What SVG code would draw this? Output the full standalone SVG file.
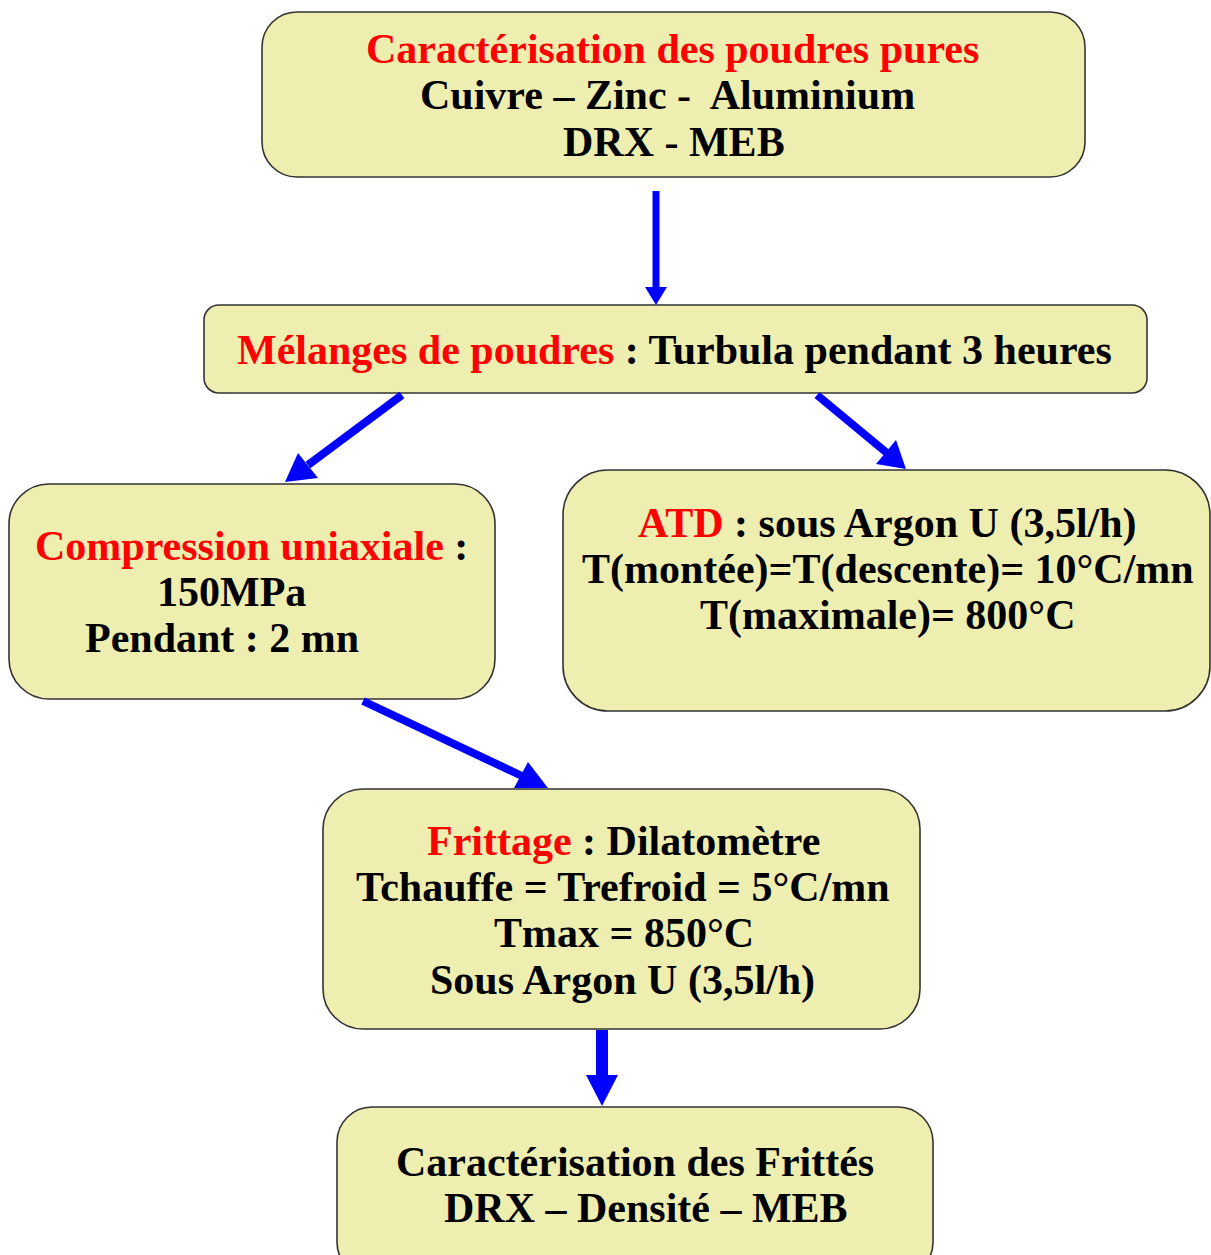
<svg xmlns="http://www.w3.org/2000/svg" width="1211" height="1255" viewBox="0 0 1211 1255">
<defs>
<style>
.box{fill:#EEEEB0;stroke:#333;stroke-width:1.6}
.t{font-family:"Liberation Serif","Times New Roman",serif;font-weight:bold;font-size:42px;fill:#000}
.r{fill:#FF0000}
.c{stroke:#0000FF;fill:none}
.h{fill:#0000FF}
</style>
</defs>
<rect width="1211" height="1255" fill="#fff"/>
<g id="n1">
<rect class="box" x="262" y="12" width="823" height="165" rx="35"/>
<text class="t r" x="366" y="63">Caractérisation des poudres pures</text>
<text class="t" x="420" y="109" xml:space="preserve">Cuivre – Zinc -  Aluminium</text>
<text class="t" x="563" y="156">DRX - MEB</text>
</g>
<g id="n2">
<rect class="box" x="204" y="305" width="943" height="88" rx="15"/>
<text class="t" x="237" y="364"><tspan class="r">Mélanges de poudres</tspan> : Turbula pendant 3 heures</text>
</g>
<g id="n3">
<rect class="box" x="9" y="484" width="486" height="215" rx="40"/>
<text class="t" x="35" y="560"><tspan class="r">Compression uniaxiale</tspan> :</text>
<text class="t" x="157" y="606">150MPa</text>
<text class="t" x="85" y="652">Pendant : 2 mn</text>
</g>
<g id="n4">
<rect class="box" x="563" y="470" width="647" height="241" rx="45"/>
<text class="t" x="638" y="537"><tspan class="r">ATD</tspan> : sous Argon U (3,5l/h)</text>
<text class="t" x="582" y="583">T(montée)=T(descente)= 10°C/mn</text>
<text class="t" x="700" y="629">T(maximale)= 800°C</text>
</g>
<g id="n5">
<rect class="box" x="323" y="789" width="597" height="240" rx="40"/>
<text class="t" x="427" y="855"><tspan class="r">Frittage</tspan> : Dilatomètre</text>
<text class="t" x="356" y="901">Tchauffe = Trefroid = 5°C/mn</text>
<text class="t" x="494" y="947">Tmax = 850°C</text>
<text class="t" x="430" y="994">Sous Argon U (3,5l/h)</text>
</g>
<g id="n6">
<rect class="box" x="337" y="1107" width="596" height="170" rx="35"/>
<text class="t" x="396" y="1176">Caractérisation des Frittés</text>
<text class="t" x="444" y="1222">DRX – Densité – MEB</text>
</g>
<g id="connectors">
<line class="c" x1="656" y1="191" x2="656" y2="288" stroke-width="7"/>
<polygon class="h" points="645,287 667,287 656,305"/>
<line class="c" x1="402" y1="395" x2="308" y2="465" stroke-width="8"/>
<polygon class="h" points="298,453 318,478 285,482"/>
<line class="c" x1="817" y1="395" x2="887" y2="453" stroke-width="8"/>
<polygon class="h" points="896,440 876,464 906,469"/>
<line class="c" x1="363" y1="701" x2="522" y2="776" stroke-width="8"/>
<polygon class="h" points="528,762 514,788 548,788"/>
<line class="c" x1="602" y1="1030" x2="602" y2="1075" stroke-width="12"/>
<polygon class="h" points="586,1075 618,1075 602,1106"/>
</g>
</svg>
